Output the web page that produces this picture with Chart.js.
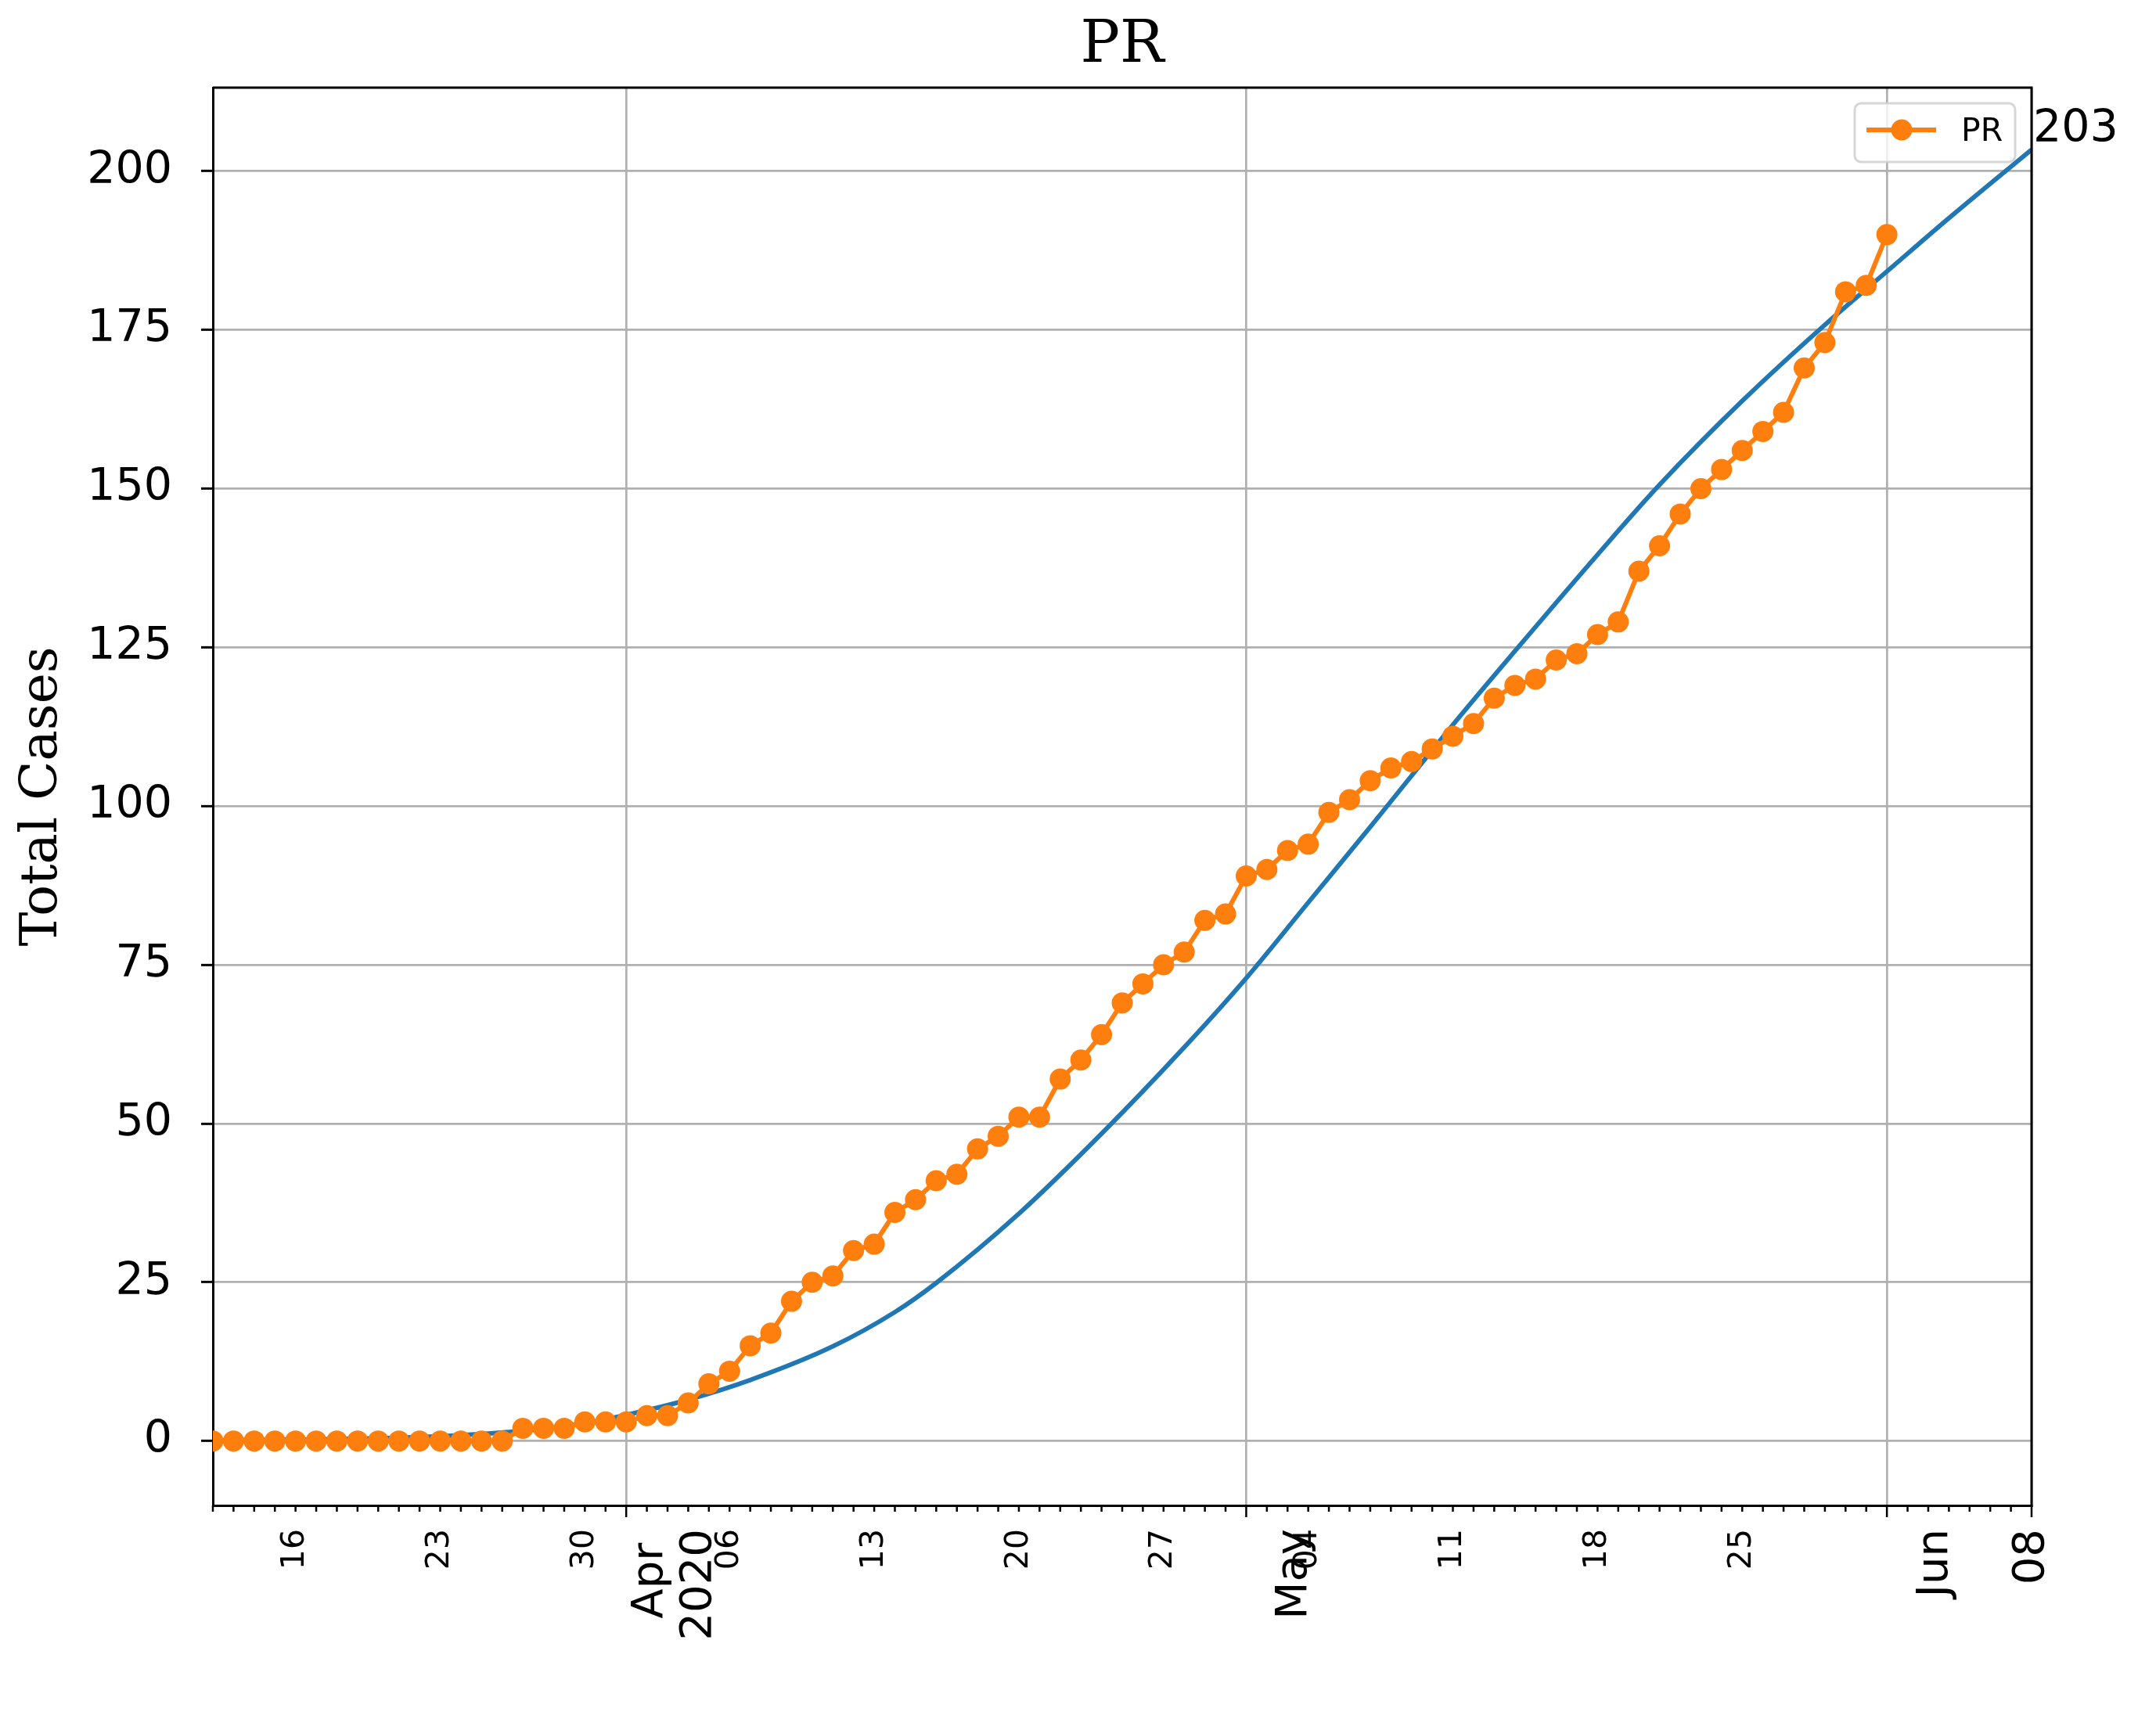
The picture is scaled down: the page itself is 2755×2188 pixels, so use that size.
<!DOCTYPE html>
<html>
<head>
<meta charset="utf-8">
<script src="https://cdn.jsdelivr.net/npm/chart.js@4.4.1/dist/chart.umd.min.js"></script>
<style>
  html, body { margin: 0; padding: 0; background: #fff; }
  canvas { display: block; }
</style>
</head>
<body>
<canvas id="myChart" width="2755" height="2188"></canvas>
<script>
// x values are days counted from 2020-03-12
const seriesName = "PR";

// daily total cases, 2020-03-12 .. 2020-06-01
const caseValues = [
    0, 0, 0, 0, 0, 0, 0, 0, 0, 0, 0, 0, 0, 0, 0,      // Mar 12-26
    2, 2, 2, 3, 3,                                     // Mar 27-31
    3, 4, 4, 6, 9, 11, 15, 17, 22, 25, 26, 30, 31, 36, 38,
    41, 42, 46, 48, 51, 51, 57, 60, 64, 69, 72, 75, 77, 82, 83,   // April
    89, 90, 93, 94, 99, 101, 104, 106, 107, 109, 111, 113, 117, 119, 120, 123,
    124, 127, 129, 137, 141, 146, 150, 153, 156, 159, 162, 169, 173, 181, 182, // May
    190                                                // Jun 1
];

// fitted curve
const fitDays   = [0, 5, 10, 13, 16, 18, 20, 23, 26, 30, 33, 35, 39, 43, 47, 50, 53, 56, 60, 63, 67, 70, 74, 78, 81, 84, 88];
const fitValues = [0.1, 0.25, 0.6, 1.1, 1.9, 2.8, 4.1, 6.5, 9.6, 14.9, 20.3, 24.9, 35.8, 48.4, 62.0, 72.9, 84.8, 96.7, 112.8, 124.4, 139.6, 150.6, 163.8, 175.8, 184.2, 192.6, 203.4];

const yTicks = [0, 25, 50, 75, 100, 125, 150, 175, 200];
const minorLabelDays = [4, 11, 18, 25, 32, 39, 46, 53, 60, 67, 74];
const minorLabels = ["16", "23", "30", "06", "13", "20", "27", "04", "11", "18", "25"];
const majorDays = [20, 50, 81, 88];
const majorLabels = ["Apr\n2020", "May", "Jun", "08"];

const lastDay = fitDays[fitDays.length - 1];
const allDays = [];
for (let d = 0; d <= lastDay; d++) allDays.push(d);

function tickLabel(day) {
    let i = minorLabelDays.indexOf(day);
    if (i >= 0) return minorLabels[i];
    i = majorDays.indexOf(day);
    if (i < 0) return "";
    const parts = majorLabels[i].split("\n");
    if (parts.length > 1) return ["", parts[0] + " ", "", parts[1]];
    if (day === lastDay) return parts[0];
    return ["", "", parts[0]];
}

Chart.defaults.font.family = "DejaVu Sans";
Chart.defaults.color = "#000";

const frameAndExtras = {
    id: "frameAndExtras",
    afterDatasetsDraw(chart) {
        const { ctx, chartArea } = chart;
        const xs = chart.scales.x;
        ctx.save();
        // day ticks under the x axis
        ctx.strokeStyle = "#000";
        ctx.lineWidth = 2.5;
        xs.ticks.forEach(t => {
            const px = xs.getPixelForValue(t.value);
            const len = majorDays.includes(t.value) ? 15 : 8;
            ctx.beginPath();
            ctx.moveTo(px, chartArea.bottom);
            ctx.lineTo(px, chartArea.bottom + len);
            ctx.stroke();
        });
        // top and right spines
        ctx.lineWidth = 3;
        ctx.beginPath();
        ctx.moveTo(chartArea.left, chartArea.top);
        ctx.lineTo(chartArea.right, chartArea.top);
        ctx.lineTo(chartArea.right, chartArea.bottom);
        ctx.stroke();
        ctx.restore();
    },
    afterDraw(chart) {
        const { ctx, chartArea } = chart;
        const xs = chart.scales.x, ys = chart.scales.y;
        ctx.save();

        // legend
        const w = 205, h = 75;
        const bx = chartArea.right - 21 - w, by = chartArea.top + 20;
        ctx.beginPath();
        ctx.roundRect(bx, by, w, h, 8);
        ctx.fillStyle = "rgba(255,255,255,0.8)";
        ctx.fill();
        ctx.strokeStyle = "rgba(204,204,204,0.8)";
        ctx.lineWidth = 3;
        ctx.stroke();
        ctx.strokeStyle = "#ff7f0e";
        ctx.lineWidth = 6;
        ctx.beginPath();
        ctx.moveTo(bx + 15, by + 34);
        ctx.lineTo(bx + 104, by + 34);
        ctx.stroke();
        ctx.fillStyle = "#ff7f0e";
        ctx.beginPath();
        ctx.arc(bx + 60, by + 34, 13.5, 0, Math.PI * 2);
        ctx.fill();
        ctx.fillStyle = "#000";
        ctx.font = "41px 'DejaVu Sans'";
        ctx.textBaseline = "alphabetic";
        ctx.textAlign = "left";
        ctx.fillText(chart.data.datasets[0].label, bx + 136, by + 48);

        // value at the end of the fitted curve
        const lastVal = fitValues[fitValues.length - 1];
        ctx.font = "57px 'DejaVu Sans'";
        ctx.fillText(String(Math.round(lastVal)),
            xs.getPixelForValue(lastDay) + 2, ys.getPixelForValue(lastVal) - 10);
        ctx.restore();
    }
};

const ctx = document.getElementById("myChart");

new Chart(ctx, {
    type: "line",
    data: {
        datasets: [{
            label: seriesName,
            data: caseValues.map((v, i) => ({ x: i, y: v })),
            borderColor: "#ff7f0e",
            backgroundColor: "#ff7f0e",
            borderWidth: 6,
            pointRadius: 13.5,
            pointBorderWidth: 0,
            pointBackgroundColor: "#ff7f0e",
            tension: 0
        }, {
            label: "fit",
            data: fitDays.map((d, i) => ({ x: d, y: fitValues[i] })),
            borderColor: "#1f77b4",
            borderWidth: 5.8,
            pointRadius: 0,
            cubicInterpolationMode: "monotone"
        }]
    },
    options: {
        responsive: false,
        animation: false,
        devicePixelRatio: 1,
        layout: { padding: { left: 0, right: 159, top: 0, bottom: 0 } },
        plugins: {
            legend: { display: false },
            tooltip: { enabled: false },
            title: {
                display: true,
                text: seriesName,
                fullSize: false,
                color: "#000",
                font: { family: "DejaVu Serif", size: 75, weight: "normal" },
                padding: { top: 15, bottom: 7 }
            }
        },
        scales: {
            x: {
                type: "linear",
                min: 0,
                max: lastDay,
                afterBuildTicks: s => { s.ticks = allDays.map(v => ({ value: v })); },
                afterFit: s => { s.height = 264; },
                ticks: {
                    autoSkip: false,
                    maxRotation: 90,
                    minRotation: 90,
                    padding: 30,
                    color: "#000",
                    callback: v => tickLabel(v),
                    font: c => {
                        const v = c.tick ? c.tick.value : -1;
                        if (majorDays.includes(v)) return { family: "DejaVu Sans", size: 56, lineHeight: "31px" };
                        return { family: "DejaVu Sans", size: 41 };
                    }
                },
                grid: {
                    drawTicks: false,
                    lineWidth: 2.7,
                    color: c => (c.tick && majorDays.includes(c.tick.value)) ? "#b0b0b0" : "rgba(0,0,0,0)"
                },
                border: { color: "#000", width: 3 }
            },
            y: {
                min: -10.15,
                max: 213.15,
                afterBuildTicks: s => { s.ticks = yTicks.map(v => ({ value: v })); },
                afterFit: s => { s.width = 272; },
                ticks: {
                    padding: 37,
                    color: "#000",
                    font: { family: "DejaVu Sans", size: 57 }
                },
                grid: {
                    color: "#b0b0b0",
                    lineWidth: 2.7,
                    tickLength: 15,
                    tickColor: "#000",
                    tickWidth: 3
                },
                border: { color: "#000", width: 3 },
                title: {
                    display: true,
                    text: "Total Cases",
                    color: "#000",
                    font: { family: "DejaVu Serif", size: 66 },
                    padding: { top: 15 }
                }
            }
        }
    },
    plugins: [frameAndExtras]
});
</script>
</body>
</html>
